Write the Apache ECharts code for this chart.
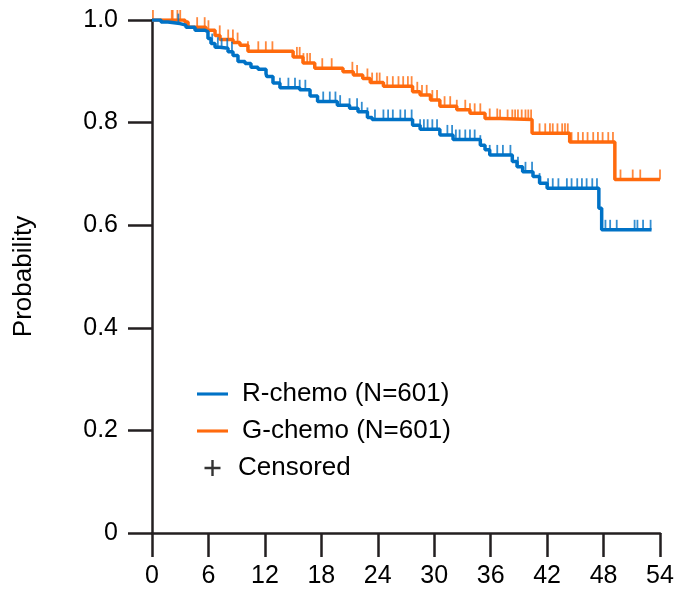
<!DOCTYPE html>
<html>
<head>
<meta charset="utf-8">
<script src="https://cdn.jsdelivr.net/npm/echarts@6/dist/echarts.min.js"></script>
<style>
html,body{margin:0;padding:0;background:#fff;}
#chart{width:683px;height:592px;}
</style>
</head>
<body>
<div id="chart"></div>
<script>
// ---- Data ----
const xTicks = [0, 6, 12, 18, 24, 30, 36, 42, 48, 54];
const yTicks = [0, 0.2, 0.4, 0.6, 0.8, 1.0];

// R-chemo: event times (months) and survival after each drop
const rTimes = [0, 0.96, 1.7, 2.98, 3.61, 4.57, 5.63, 5.95, 6.27, 6.7, 7.23, 8.08, 8.61, 9.14, 9.89, 10.52, 11.27, 12.12, 12.2, 12.86, 13.6, 15.7, 16.8, 17.6, 19.7, 21.0, 21.9, 22.9, 23.4, 27.7, 28.5, 30.6, 32.0, 34.9, 35.4, 35.9, 38.3, 38.8, 39.4, 40.5, 41.2, 42.0, 47.5, 47.8, 53.1];
const rSurv  = [1.0, 0.996, 0.993, 0.990, 0.986, 0.980, 0.977, 0.964, 0.954, 0.947, 0.945, 0.938, 0.931, 0.919, 0.915, 0.908, 0.904, 0.895, 0.890, 0.877, 0.868, 0.864, 0.852, 0.841, 0.834, 0.828, 0.821, 0.810, 0.806, 0.795, 0.787, 0.776, 0.767, 0.756, 0.747, 0.737, 0.724, 0.714, 0.704, 0.695, 0.682, 0.672, 0.633, 0.591, 0.591];

// G-chemo
const gTimes = [0, 3.5, 3.83, 5.74, 6.7, 7.23, 8.61, 9.35, 10.2, 15.0, 16.05, 17.3, 20.3, 21.4, 22.4, 23.2, 24.6, 27.7, 28.5, 29.6, 30.6, 32.4, 33.8, 35.4, 37.0, 40.4, 44.4, 49.2, 54.0];
const gSurv  = [1.0, 0.996, 0.986, 0.980, 0.970, 0.962, 0.956, 0.951, 0.939, 0.928, 0.916, 0.906, 0.899, 0.893, 0.886, 0.878, 0.871, 0.860, 0.854, 0.844, 0.832, 0.825, 0.818, 0.808, 0.806, 0.779, 0.762, 0.689, 0.689];

// Censoring times
const rCensor = [2.8, 6.4, 7.0, 7.4, 8.0, 8.5, 13.6, 14.5, 15.2, 15.7, 16.3, 18.2, 18.9, 19.5, 20.0, 21.0, 21.8, 22.3, 22.9, 23.7, 24.6, 25.1, 25.6, 26.4, 26.9, 27.6, 28.5, 28.9, 29.3, 29.8, 30.3, 31.4, 31.9, 32.3, 32.7, 33.3, 33.8, 34.3, 34.9, 35.9, 36.7, 37.3, 38.1, 38.9, 39.7, 40.4, 41.2, 42.1, 42.6, 43.2, 44.1, 44.6, 45.2, 45.7, 46.2, 46.8, 47.3, 48.2, 48.7, 49.4, 51.3, 51.6, 52.2, 53.0];
const gCensor = [0.1, 2.1, 2.2, 2.7, 3.0, 4.8, 5.6, 6.0, 7.2, 8.1, 8.6, 9.1, 10.2, 11.3, 12.1, 12.8, 15.4, 15.7, 16.1, 16.5, 16.8, 18.1, 19.1, 21.3, 21.8, 22.9, 23.4, 23.9, 24.2, 25.0, 25.6, 26.2, 26.7, 27.2, 27.6, 28.2, 28.7, 29.2, 29.8, 30.3, 31.1, 31.7, 32.4, 33.3, 33.8, 34.3, 34.9, 35.9, 36.7, 37.0, 37.8, 38.3, 38.6, 38.9, 39.3, 39.7, 40.0, 40.3, 41.2, 41.8, 42.3, 42.6, 43.1, 43.6, 43.9, 44.2, 44.6, 45.3, 45.8, 46.3, 46.9, 47.4, 47.9, 48.5, 49.0, 49.8, 51.1, 51.9, 54.0];

const rName = 'R-chemo (N=601)';
const gName = 'G-chemo (N=601)';
const cName = 'Censored';

// ---- Helpers ----
function survAt(times, surv, t) {
  let v = surv[0];
  for (let i = 0; i < times.length; i++) { if (times[i] <= t) v = surv[i]; else break; }
  return v;
}
const zip = (a, b) => a.map((x, i) => [x, b[i]]);
const censorPts = (c, times, surv) => c.map(t => [t, survAt(times, surv, t)]);

const BLUE = '#0072C6';
const ORANGE = '#FF6A0D';
const AX = '#231f20';
const FONT = "'Liberation Sans', Arial, Helvetica, sans-serif";
const LINE_ICON = 'path://M0,0H30V3H0Z';
const PLUS_ICON = 'path://M5.1,0H6.9V5.1H12V6.9H6.9V12H5.1V6.9H0V5.1H5.1Z';

const chart = echarts.init(document.getElementById('chart'), null, {renderer: 'canvas'});
const censorSymbol = {type: 'scatter', symbol: 'rect', symbolSize: [1.8, 10], symbolOffset: [0, -5], silent: true};

chart.setOption({
  animation: false,
  backgroundColor: '#fff',
  textStyle: {fontFamily: FONT},
  grid: {left: 152, right: 23, top: 20, bottom: 59, containLabel: false},
  xAxis: {
    type: 'value', min: xTicks[0], max: xTicks[xTicks.length - 1], interval: 6,
    axisLine: {lineStyle: {color: AX, width: 2.5}},
    axisTick: {length: 24, lineStyle: {color: AX, width: 2.5}},
    axisLabel: {margin: 31, fontSize: 25, color: '#000', fontFamily: FONT},
    splitLine: {show: false}
  },
  yAxis: {
    type: 'value', min: yTicks[0], max: yTicks[yTicks.length - 1], interval: 0.2,
    name: 'Probability', nameLocation: 'middle', nameGap: 115, nameRotate: 90,
    nameTextStyle: {fontSize: 26, color: '#000', fontFamily: FONT},
    axisLine: {show: true, lineStyle: {color: AX, width: 2.5}},
    axisTick: {show: true, length: 24, lineStyle: {color: AX, width: 2.5}},
    axisLabel: {margin: 34, fontSize: 25, color: '#000', fontFamily: FONT,
      formatter: v => v === 0 ? '0' : v.toFixed(1)},
    splitLine: {show: false}
  },
  legend: {
    orient: 'vertical', left: 192, top: 376, itemWidth: 31, itemHeight: 16, itemGap: 11,
    selectedMode: false,
    data: [
      {name: rName, icon: LINE_ICON, itemStyle: {color: BLUE}},
      {name: gName, icon: LINE_ICON, itemStyle: {color: ORANGE}},
      {name: cName, icon: PLUS_ICON, itemStyle: {color: '#000'}, textStyle: {padding: [0, 0, 0, 5]}}
    ],
    textStyle: {fontSize: 26, lineHeight: 26, color: '#000', fontFamily: FONT, padding: [0, 0, 0, 9]}
  },
  series: [
    {name: gName, type: 'line', step: 'end', symbol: 'none', data: zip(gTimes, gSurv),
      lineStyle: {color: ORANGE, width: 3.5}, itemStyle: {color: ORANGE}, z: 2},
    {name: rName, type: 'line', step: 'end', symbol: 'none', data: zip(rTimes, rSurv),
      lineStyle: {color: BLUE, width: 3.5}, itemStyle: {color: BLUE}, z: 3},
    Object.assign({name: 'gc', data: censorPts(gCensor, gTimes, gSurv), itemStyle: {color: ORANGE}, z: 2}, censorSymbol),
    Object.assign({name: 'rc', data: censorPts(rCensor, rTimes, rSurv), itemStyle: {color: BLUE}, z: 3}, censorSymbol),
    {name: cName, type: 'scatter', data: [], itemStyle: {color: '#000'}}
  ]
});
</script>
</body>
</html>
